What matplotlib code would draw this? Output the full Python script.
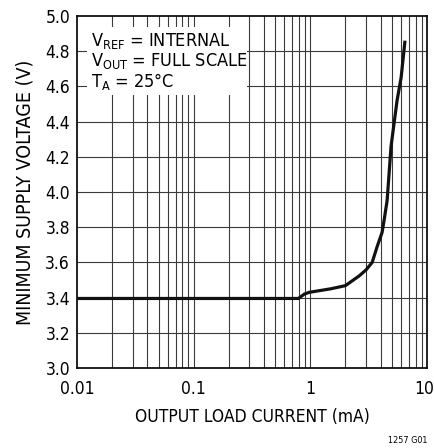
import matplotlib
matplotlib.use('Agg')
import matplotlib.pyplot as plt
from matplotlib.patches import Rectangle
from matplotlib.transforms import ScaledTranslation

plt.rcParams['font.family'] = ['DejaVu Sans']
plt.rcParams['font.stretch'] = 'condensed'
plt.rcParams['mathtext.default'] = 'regular'

# output load current (mA) vs minimum supply voltage (V)
current = [0.01, 0.79, 0.89, 0.98, 1.5, 2.0, 2.62, 3.0, 3.39, 3.74, 4.12, 4.29, 4.55, 4.92, 5.54, 6.0, 6.48]
voltage = [3.395, 3.395, 3.42, 3.43, 3.45, 3.468, 3.523, 3.557, 3.60, 3.69, 3.77, 3.84, 3.95, 4.26, 4.52, 4.65, 4.86]

xticks = [0.01, 0.1, 1, 10]
xticklabels = ['0.01', '0.1', '1', '10']
yticks = [3.0, 3.2, 3.4, 3.6, 3.8, 4.0, 4.2, 4.4, 4.6, 4.8, 5.0]

fig = plt.figure(figsize=(4.35, 4.48), dpi=100)
ax = fig.add_axes([0.177, 0.1786, 0.8046, 0.7857])

ax.set_xscale('log')
ax.set_xlim(0.01, 10)
ax.set_ylim(3.0, 5.0)

# grid at every minor log position
gx = [m * 10.0**e for e in (-2, -1, 0) for m in range(1, 10)]
for g in gx[1:]:
    ax.axvline(g, color='#3a3a3a', lw=0.8, zorder=0.5)
for g in yticks[1:-1]:
    ax.axhline(g, color='#3a3a3a', lw=0.8, zorder=0.5)

ax.add_patch(Rectangle((0.0122, 4.55), 0.284 - 0.0122, 4.94 - 4.55,
                       facecolor='white', edgecolor='none', zorder=1))

ax.plot(current, voltage, color='#111111', lw=2.3, zorder=3,
        solid_capstyle='butt', solid_joinstyle='round')

ax.set_xticks(xticks)
ax.set_xticklabels(xticklabels)
ax.xaxis.set_minor_locator(matplotlib.ticker.NullLocator())
ax.set_yticks(yticks)
ax.set_yticklabels(['%.1f' % v for v in yticks])
ax.tick_params(length=0, labelsize=12.5)
ax.tick_params(axis='x', pad=9)
ax.tick_params(axis='y', pad=5)
lbl = ax.get_xticklabels()[-1]
lbl.set_transform(lbl.get_transform() + ScaledTranslation(-3 / 100, 0, fig.dpi_scale_trans))
for s in ax.spines.values():
    s.set_linewidth(1.3)
    s.set_color('#111111')

ax.set_xlabel('OUTPUT LOAD CURRENT (mA)', fontsize=12.5, labelpad=7)
ax.set_ylabel('MINIMUM SUPPLY VOLTAGE (V)', fontsize=14, labelpad=8)

ax.text(0.0132, 4.86, 'V$_{REF}$ = INTERNAL', fontsize=13, va='center', zorder=4)
ax.text(0.0132, 4.745, 'V$_{OUT}$ = FULL SCALE', fontsize=13, va='center', zorder=4)
ax.text(0.0132, 4.63, 'T$_{A}$ = 25°C', fontsize=13, va='center', zorder=4)

fig.text(0.982, 0.016, '1257 G01', fontsize=6.5, ha='right', va='center')

fig.savefig('out.png', dpi=100)
